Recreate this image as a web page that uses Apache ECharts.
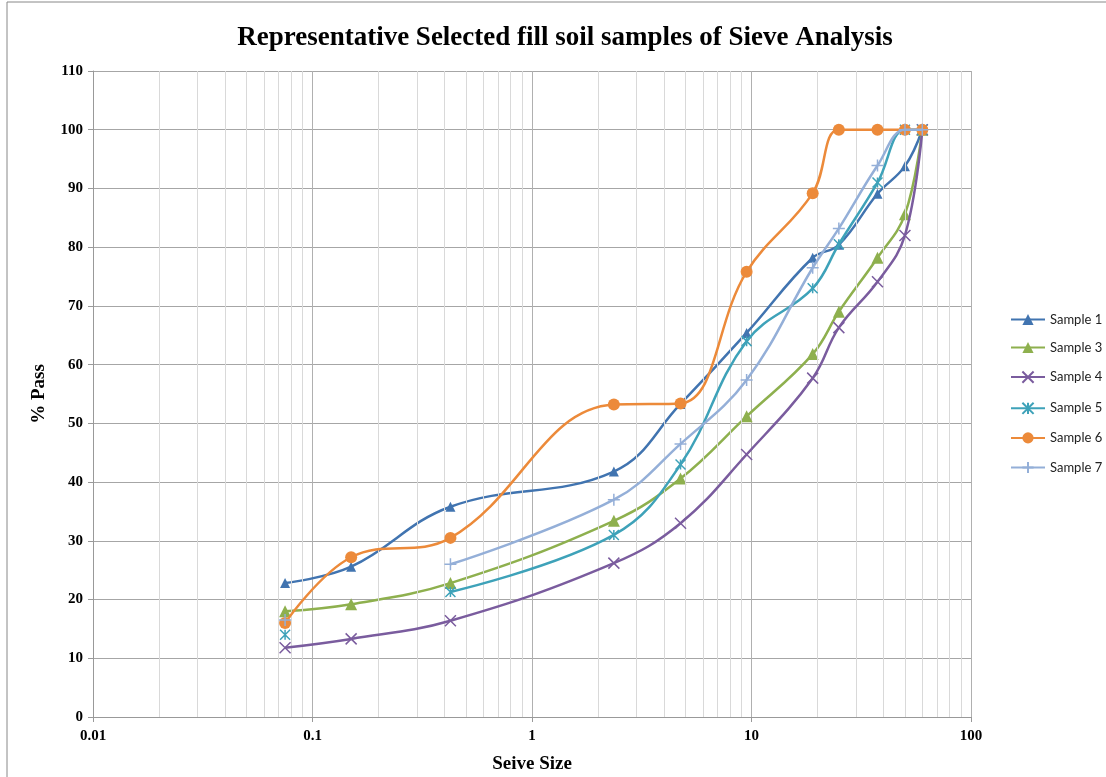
<!DOCTYPE html>
<html><head><meta charset="utf-8">
<script src="https://cdn.jsdelivr.net/npm/echarts@6/dist/echarts.min.js"></script>
<style>html,body{margin:0;padding:0;background:#fff}#c{width:1106px;height:777px}</style>
</head><body><div id="c"></div>
<script>
const sieveSizes = [0.075, 0.15, 0.425, 2.36, 4.75, 9.5, 19, 25, 37.5, 50, 60];
const sample1 = [22.8, 25.6, 35.8, 41.8, 53.3, 65.4, 78.2, 80.4, 89.1, 93.8, 100];
const sample3 = [18.0, 19.2, 22.8, 33.4, 40.6, 51.2, 61.8, 69.0, 78.2, 85.6, 100];
const sample4 = [11.8, 13.3, 16.4, 26.2, 33.0, 44.7, 57.7, 66.3, 74.1, 82.0, 100];
const sample5 = [14.0, null, 21.3, 31.0, 43.0, 64.0, 73.0, 80.5, 91.0, 100, 100];
const sample6 = [16.0, 27.2, 30.5, 53.2, 53.4, 75.8, 89.2, 100, 100, 100, 100];
const sample7 = [16.5, null, 26.0, 37.0, 46.5, 57.4, 76.5, 83.2, 93.9, 100, 100];
const seriesNames = ['Sample 1', 'Sample 3', 'Sample 4', 'Sample 5', 'Sample 6', 'Sample 7'];
const xTickLabels = ['0.01', '0.1', '1', '10', '100'];
const minorGridValues = [];
[0.01, 0.1, 1, 10].forEach(d => { for (let k = 2; k <= 9; k++) minorGridValues.push(+(d * k).toPrecision(3)); });

const colors = ['#4174B0', '#8EB04E', '#7A5C9E', '#3EA2B9', '#EC8A3A', '#94AFD8'];
const symbols = [
  'triangle', 'triangle',
  'path://M0,0L10,10M10,0L0,10',
  'path://M0,0L10,10M10,0L0,10M5,0L5,10',
  'circle',
  'path://M5,0L5,10M0,5L10,5'
];
const symbolSizes = [10, 12, 11, 10, 12, 12];
const allData = [sample1, sample3, sample4, sample5, sample6, sample7];
const serif = '"Liberation Serif", "Times New Roman", serif';

const series = allData.map((vals, i) => ({
  name: seriesNames[i],
  type: 'line',
  smooth: 0.4,
  data: sieveSizes.map((s, j) => [s, vals[j] === null ? '-' : vals[j]]),
  symbol: symbols[i],
  symbolSize: symbolSizes[i],
  showAllSymbol: true,
  connectNulls: false,
  z: 3 + i,
  lineStyle: { color: colors[i], width: 2.5 },
  itemStyle: { color: symbols[i].startsWith('path') ? 'none' : colors[i], borderColor: colors[i], borderWidth: symbols[i].startsWith('path') ? 1.5 : 0 }
}));
series.unshift({
  name: 'minorGrid', type: 'line', data: [], z: 1, silent: true,
  markLine: {
    silent: true, symbol: 'none', label: { show: false },
    lineStyle: { color: '#d9d9d9', width: 1, type: 'solid' },
    data: minorGridValues.map(v => ({ xAxis: v }))
  }
});

const chart = echarts.init(document.getElementById('c'));
chart.setOption({
  animation: false,
  backgroundColor: '#fff',
  title: {
    text: 'Representative Selected fill soil samples of Sieve Analysis',
    left: 560, top: 20, textAlign: 'center',
    textStyle: { fontFamily: serif, fontWeight: 'bold', fontSize: 27, color: '#000' }
  },
  graphic: [{ type: 'rect', shape: { x: 7, y: 2, width: 1100, height: 790 }, style: { fill: 'none', stroke: '#888', lineWidth: 1 }, silent: true }],
  legend: {
    data: seriesNames, orient: 'vertical', left: 1005, top: 308, itemGap: 15,
    itemWidth: 34, itemHeight: 14,
    textStyle: { fontFamily: 'Lato, "Open Sans", sans-serif', fontSize: 13, color: '#222' }
  },
  grid: { left: 93, right: 135, top: 71, bottom: 60, containLabel: false, outerBoundsMode: 'none' },
  xAxis: {
    type: 'log', logBase: 10, min: 0.01, max: 100,
    name: 'Seive Size', nameLocation: 'middle', nameGap: 38,
    nameTextStyle: { fontFamily: serif, fontWeight: 'bold', fontSize: 19, color: '#000' },
    axisLine: { lineStyle: { color: '#999' } },
    axisTick: { show: true, length: 5, lineStyle: { color: '#999' } },
    axisLabel: {
      fontFamily: serif, fontWeight: 'bold', fontSize: 15, color: '#000', margin: 12,
      formatter: v => { const s = xTickLabels.find(t => Math.abs(+t - v) / v < 1e-6); return s || ''; }
    },
    splitLine: { show: true, lineStyle: { color: '#b0b0b0' } }
  },
  yAxis: {
    type: 'value', min: 0, max: 110, interval: 10,
    name: '% Pass', nameLocation: 'middle', nameGap: 44,
    nameTextStyle: { fontFamily: serif, fontWeight: 'bold', fontSize: 19, color: '#000' },
    axisLine: { show: true, lineStyle: { color: '#999' } },
    axisTick: { show: true, length: 5, lineStyle: { color: '#999' } },
    axisLabel: { fontFamily: serif, fontWeight: 'bold', fontSize: 15, color: '#000', margin: 10 },
    splitLine: { show: true, lineStyle: { color: '#a6a6a6' } }
  },
  series: series
});
</script></body></html>
